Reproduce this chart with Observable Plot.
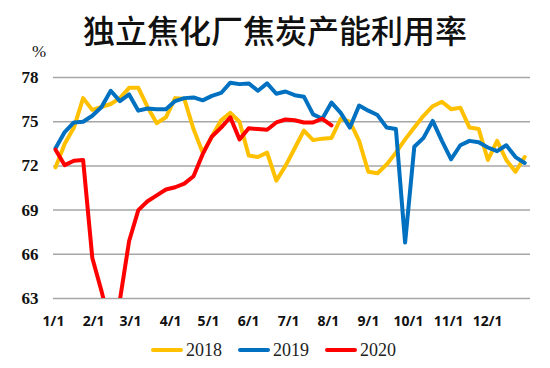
<!DOCTYPE html>
<html>
<head>
<meta charset="utf-8">
<script src="https://cdn.jsdelivr.net/npm/d3@7"></script>
<script src="https://cdn.jsdelivr.net/npm/@observablehq/plot@0.6"></script>
<style>
  html, body { margin: 0; padding: 0; background: #fff; }
  #wrap { position: relative; width: 550px; height: 368px; overflow: hidden; background: #fff; }
  #title { position: absolute; left: 0; top: 13px; width: 550px; text-align: center;
    font-family: "Noto Sans CJK SC", sans-serif; font-weight: 500; font-size: 32px; line-height: 32px; color: #111; }
  #unit { position: absolute; left: 32px; top: 42px; font-family: "Liberation Serif", serif; font-size: 17px; line-height: 20px; color: #111; }
  #chart { position: absolute; left: 0; top: 46px; }
  #legend { position: absolute; left: 151px; top: 340px; height: 20px; display: flex; align-items: center;
    font-family: "Liberation Serif", serif; font-size: 18px; color: #222; }
  .item { display: flex; align-items: center; margin-right: 16px; }
  .sw { width: 32px; height: 4px; border-radius: 2px; margin-right: 3px; }
</style>
</head>
<body>
<div id="wrap">
  <div id="title">独立焦化厂焦炭产能利用率</div>
  <div id="unit">%</div>
  <div id="chart"></div>
  <div id="legend"></div>
</div>
<script>
// ---- data (weekly readings, %) ----
const series = ["2018", "2019", "2020"];
const colors = ["#FFC000", "#0070C0", "#FF0000"];

const y2018 = [71.9, 73.5, 74.6, 76.6, 75.8, 76.0, 76.2, 76.6, 77.3, 77.3,
  76.0, 74.9, 75.3, 76.6, 76.55, 74.5, 72.9, 74.0, 75.1, 75.6,
  75.0, 72.7, 72.6, 72.9, 71.0, 72.0, 73.2, 74.4, 73.75, 73.85,
  73.9, 75.2, 75.0, 73.7, 71.6, 71.5, 72.1, 72.9, 73.8, 74.6,
  75.4, 76.05, 76.35, 75.85, 75.95, 74.6, 74.5, 72.4, 73.7, 72.4,
  71.6, 72.6];

const y2019 = [73.2, 74.3, 74.95, 75.0, 75.4, 76.0, 77.1, 76.4, 76.85, 75.75,
  75.9, 75.85, 75.85, 76.4, 76.6, 76.65, 76.45, 76.75, 76.95, 77.65,
  77.55, 77.6, 77.1, 77.6, 76.9, 77.05, 76.8, 76.7, 75.5, 75.2,
  76.3, 75.6, 74.6, 76.1, 75.75, 75.45, 74.6, 74.5, 66.8, 73.3,
  73.9, 75.05, 73.7, 72.45, 73.4, 73.7, 73.6, 73.25, 73.0, 73.4,
  72.6, 72.2];

const y2020 = [73.1, 72.05, 72.35, 72.4, 65.75, 63.5, 61.0, 62.9, 66.9, 69.0,
  69.6, 70.0, 70.4, 70.55, 70.8, 71.3, 72.8, 74.0, 74.6, 75.3,
  73.8, 74.55, 74.5, 74.45, 74.95, 75.15, 75.1, 74.95, 74.95, 75.2,
  74.75];

const yTicks = [63, 66, 69, 72, 75, 78];
const xTickLabels = ["1/1", "2/1", "3/1", "4/1", "5/1", "6/1", "7/1", "8/1", "9/1", "10/1", "11/1", "12/1"];
// tick label positions, in weeks from the first reading
const xTickPos = [-0.22, 4.13, 8.15, 12.5, 16.63, 20.98, 25.33, 29.67, 34.02, 38.37, 42.72, 46.96];

// ---- build table ----
const allValues = [y2018, y2019, y2020];
const rows = [];
allValues.forEach((vals, s) => vals.forEach((v, i) => rows.push({series: series[s], week: i, value: v})));

const chart = Plot.plot({
  width: 550,
  height: 300,
  marginLeft: 53,
  marginRight: 20,
  marginTop: 31,
  marginBottom: 48,
  x: {domain: [-0.22, 51.63], axis: null},
  y: {domain: [63, 78], axis: null},
  color: {domain: series, range: colors},
  marks: [
    Plot.ruleY(yTicks, {stroke: "#a6a6a6", strokeWidth: 1.5}),
    Plot.text(yTicks, {y: d => d, frameAnchor: "left", dx: -15, textAnchor: "end",
      fontFamily: "Liberation Serif", fontWeight: "bold", fontSize: 17, fill: "#111"}),
    Plot.text(xTickLabels, {x: (d, i) => xTickPos[i], frameAnchor: "bottom", dy: 27, text: d => d,
      fontFamily: "Open Sans", fontWeight: "bold", fontSize: 14, fill: "#111"}),
    Plot.line(rows, {x: "week", y: "value", z: "series", stroke: "series", strokeWidth: 4,
      strokeLinejoin: "round", strokeLinecap: "round", clip: true})
  ]
});
document.getElementById("chart").appendChild(chart);

const legend = document.getElementById("legend");
series.forEach((s, i) => {
  const item = document.createElement("div");
  item.className = "item";
  const sw = document.createElement("div");
  sw.className = "sw";
  sw.style.background = colors[i];
  const t = document.createElement("span");
  t.textContent = s;
  item.appendChild(sw);
  item.appendChild(t);
  legend.appendChild(item);
});
</script>
</body>
</html>
